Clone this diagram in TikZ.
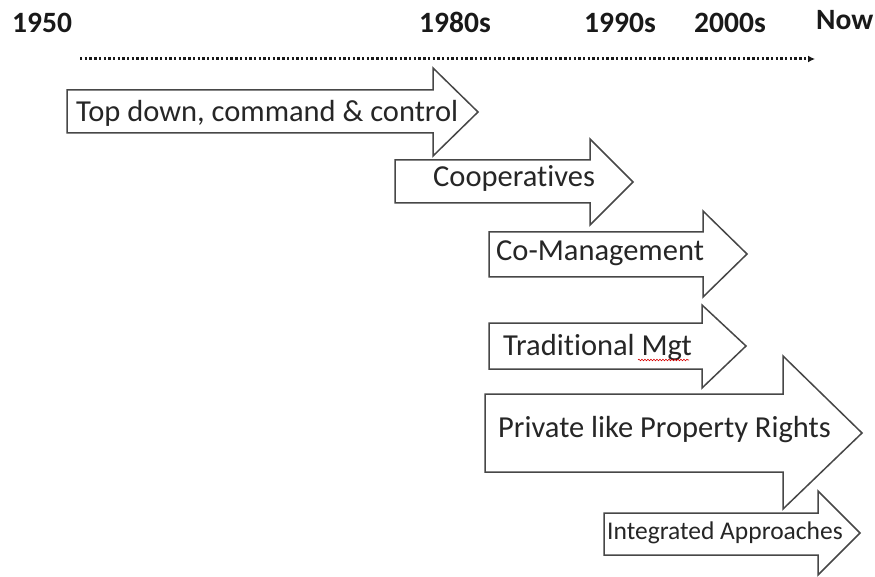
\documentclass[tikz,border=0pt]{standalone}
\usepackage{fontspec}
\setmainfont{Carlito}[Ligatures=NoCommon]
\usetikzlibrary{arrows.meta, decorations.pathmorphing}

\begin{document}
\begin{tikzpicture}[x=1pt, y=-1pt,
    year/.style = {anchor=base west, inner sep=0pt, font=\fontsize{29.5}{31}\selectfont\bfseries, text=black!90},
    lbl/.style = {anchor=base west, inner sep=0pt, font=\fontsize{30.5}{34}\selectfont, text=black!85},
    blockarrow/.style = {draw=black!72, line width=1.5pt, fill=white, line join=miter}]
    \useasboundingbox (0,0) rectangle (875,577);

    % years along the top
    \node[year] (y1950) at (12,33) {1950};
    \node[year] (y1980) at (419,33) {1980s};
    \node[year] (y1990) at (584,33) {1990s};
    \node[year] (y2000) at (694,33) {2000s};
    \node[year] (now) at (816,30) {Now};

    % dotted time line
    \coordinate (tstart) at (80,59);
    \coordinate (tend) at (815,59);
    \draw[black!90, line width=3pt, dash pattern=on 2.4pt off 2.3pt, -{Latex[length=7pt, width=7pt]}] (tstart) -- (tend);

    % block arrows
    \draw[blockarrow] (67,90) -- (433,90) -- (433,68) -- (478,112) -- (433,156) -- (433,133) -- (67,133) -- cycle;
    \draw[blockarrow] (395,160) -- (590,160) -- (590,139) -- (633,182) -- (590,225) -- (590,203) -- (395,203) -- cycle;
    \draw[blockarrow] (489,232) -- (703,232) -- (703,211) -- (747,254) -- (703,297) -- (703,277) -- (489,277) -- cycle;
    \draw[blockarrow] (489,323) -- (702,323) -- (702,305) -- (746,346) -- (702,388) -- (702,369) -- (489,369) -- cycle;
    \draw[blockarrow] (485,394) -- (783,394) -- (783,356) -- (862,433) -- (783,509) -- (783,472) -- (485,472) -- cycle;
    \draw[blockarrow] (604,513) -- (818,513) -- (818,491) -- (860,533) -- (818,575) -- (818,555) -- (604,555) -- cycle;

    % labels
    \node[lbl] (topdown) at (76,122) {Top down, command \& control};
    \node[lbl] (coop) at (433,187) {Cooperatives};
    \node[lbl] (comgmt) at (496,261) {Co-Management};
    \node[lbl] (tradmgt) at (503,355) {Traditional Mgt};
    \node[lbl] (private) at (498,437) {Private like Property Rights};
    \node[lbl, font=\fontsize{25.5}{28}\selectfont] (integ) at (607,539) {Integrated Approaches};

    % spell check squiggle
    \draw[red!85!black, line width=0.6pt, decorate, decoration={snake, amplitude=0.8pt, segment length=3pt}] (638,360) -- (689,360);
\end{tikzpicture}
\end{document}
